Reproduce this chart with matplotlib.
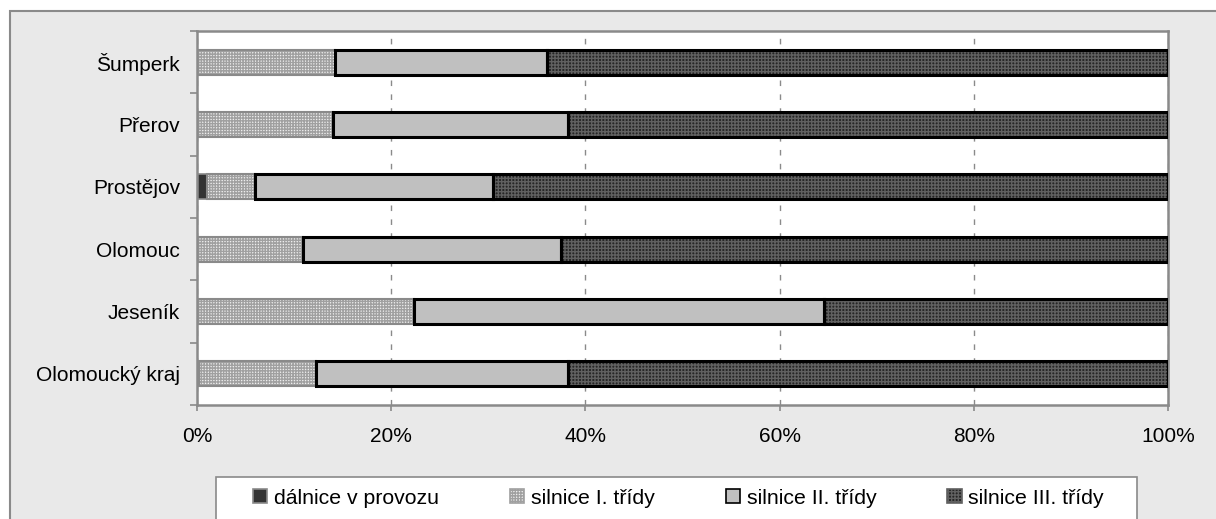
import matplotlib
matplotlib.use("Agg")
import matplotlib.pyplot as plt
from matplotlib.patches import Rectangle, Patch

plt.rcParams["font.family"] = ["Liberation Sans", "DejaVu Sans"]
plt.rcParams["hatch.linewidth"] = 1.0

# Share of road length by road class (%), per district
districts = ["Šumperk", "Přerov", "Prostějov", "Olomouc", "Jeseník", "Olomoucký kraj"]
dalnice = [0.0, 0.0, 1.0, 0.0, 0.0, 0.2]
silnice_1 = [14.2, 14.0, 5.0, 10.9, 22.3, 12.1]
silnice_2 = [21.8, 24.2, 24.5, 26.6, 42.3, 25.9]
silnice_3 = [64.0, 61.8, 69.5, 62.5, 35.4, 61.8]

series_names = ["dálnice v provozu", "silnice I. třídy", "silnice II. třídy", "silnice III. třídy"]
x_ticks = [0, 20, 40, 60, 80, 100]
x_ticklabels = ["0%", "20%", "40%", "60%", "80%", "100%"]

# fill colour, hatch, hatch colour, outline colour, outline width
styles = [
    ("#333333", None, "#333333", "#8a8a8a", 1.2),
    ("#eeeeee", "++++++", "#a0a0a0", "#8a8a8a", 1.5),
    ("#c0c0c0", None, "#c0c0c0", "#000000", 2.2),
    ("#262626", "+++++", "#606060", "#000000", 2.2),
]

W, H = 1216, 519
fig = plt.figure(figsize=(W / 100, H / 100), dpi=100, facecolor="white")

# outer chart frame
fig.patches.append(Rectangle((10 / W, -0.1), 1.2, 1 - 11 / H + 0.1,
                             transform=fig.transFigure, facecolor="#e9e9e9",
                             edgecolor="#8a8a8a", linewidth=1.5, zorder=-3))

ax = fig.add_axes([197 / W, 1 - 405 / H, (1168 - 197) / W, (405 - 31) / H])
ax.set_facecolor("white")

n = len(districts)
ypos = [n - 1 - i for i in range(n)]
height = 0.4
left = [0.0] * n
for values, (fc, hatch, hc, ec, lw) in zip([dalnice, silnice_1, silnice_2, silnice_3], styles):
    ax.barh(ypos, values, left=left, height=height, color=fc, hatch=hatch,
            edgecolor=hc, linewidth=0, zorder=2)
    ax.barh(ypos, values, left=left, height=height, fill=False,
            edgecolor=ec, linewidth=lw, zorder=3)
    left = [l + v for l, v in zip(left, values)]

ax.set_xlim(0, 100)
ax.set_ylim(-0.5, n - 0.5)
ax.set_xticks(x_ticks)
ax.set_xticklabels(x_ticklabels)
ax.set_yticks(ypos)
ax.set_yticklabels(districts)
ax.set_yticks([k - 0.5 for k in range(n + 1)], minor=True)

ax.tick_params(axis="y", which="major", length=0, pad=12.2, labelsize=15)
ax.tick_params(axis="y", which="minor", length=5, width=1.2, color="#8a8a8a", direction="out")
ax.tick_params(axis="x", which="major", length=4, width=1.2, color="#8a8a8a", pad=12, labelsize=15)

for spine in ax.spines.values():
    spine.set_color("#8a8a8a")
    spine.set_linewidth(1.8)

ax.xaxis.grid(True, color="#8a8a8a", linestyle=(0, (4, 6)), linewidth=1.0, zorder=1)
ax.set_axisbelow(True)

# legend box
fig.patches.append(Rectangle((216 / W, -0.1), (1137 - 216) / W, 1 - 477 / H + 0.1,
                             transform=fig.transFigure, facecolor="white",
                             edgecolor="#8a8a8a", linewidth=1.2, zorder=-2))

handles = []
for name, (fc, hatch, hc, ec, lw) in zip(series_names, styles):
    handles.append(Patch(facecolor=fc, hatch=hatch, edgecolor=ec if hatch is None else hc,
                         linewidth=1.2, label=name))

fig.legend(handles=handles, loc="center left", bbox_to_anchor=(253 / W, 1 - 498 / H),
           ncol=4, frameon=False, fontsize=15.3, handlelength=0.68, handleheight=0.68,
           handletextpad=0.3, columnspacing=3.35, borderpad=0, borderaxespad=0)

fig.savefig("out.png", dpi=100, facecolor=fig.get_facecolor())
